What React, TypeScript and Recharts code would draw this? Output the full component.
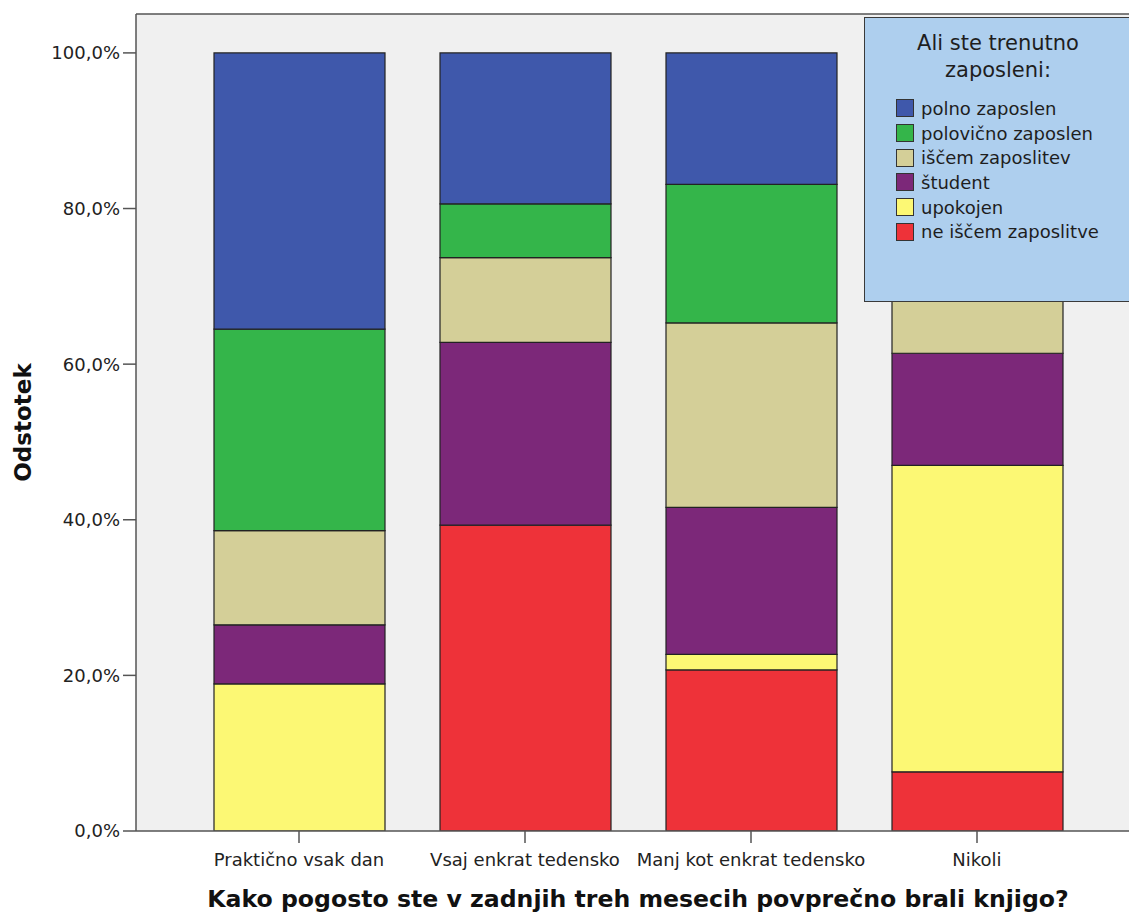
import {
  BarChart,
  Bar,
  XAxis,
  YAxis,
  CartesianGrid,
  ReferenceLine,
  Legend,
} from "recharts";

const categories = [
  "Praktično vsak dan",
  "Vsaj enkrat tedensko",
  "Manj kot enkrat tedensko",
  "Nikoli",
];

// stacked bottom -> top
const neIscemZaposlitve = [0, 39.3, 20.7, 7.6];
const upokojen = [18.9, 0, 2.0, 39.4];
const student = [7.6, 23.5, 18.9, 14.4];
const iscemZaposlitev = [12.1, 10.9, 23.7, 12.0];
const polovicnoZaposlen = [25.9, 6.9, 17.8, 7.0];
const polnoZaposlen = [35.5, 19.4, 16.9, 19.6];

const yTicks = [0, 20, 40, 60, 80, 100];

const series = [
  { key: "ne", name: "ne iščem zaposlitve", color: "#ee3239", values: neIscemZaposlitve },
  { key: "upo", name: "upokojen", color: "#fcf874", values: upokojen },
  { key: "stu", name: "študent", color: "#7c2879", values: student },
  { key: "isc", name: "iščem zaposlitev", color: "#d4cf98", values: iscemZaposlitev },
  { key: "pol", name: "polovično zaposlen", color: "#34b54a", values: polovicnoZaposlen },
  { key: "pz", name: "polno zaposlen", color: "#3f58ab", values: polnoZaposlen },
];

const data = categories.map((c, i) => {
  const row: Record<string, string | number> = { cat: c };
  for (const s of series) row[s.key] = s.values[i];
  return row;
});

const FONT = "'DejaVu Sans', Verdana, sans-serif";

function LegendBox() {
  const items = [...series].reverse();
  return (
    <div
      style={{
        boxSizing: "border-box",
        width: "100%",
        height: "100%",
        background: "#aecfee",
        border: "1.5px solid #3a3a3a",
        fontFamily: FONT,
        color: "#1e1e1e",
        paddingTop: 12,
      }}
    >
      <div style={{ textAlign: "center", fontSize: 21, lineHeight: "27px", paddingRight: 22 }}>
        Ali ste trenutno
        <br />
        zaposleni:
      </div>
      <div style={{ marginTop: 12, paddingLeft: 31 }}>
        {items.map((s) => (
          <div
            key={s.key}
            style={{ display: "flex", alignItems: "center", height: 24.7, fontSize: 18 }}
          >
            <span
              style={{
                display: "inline-block",
                boxSizing: "border-box",
                width: 18,
                height: 18,
                background: s.color,
                border: "1.5px solid #333",
                marginRight: 7,
              }}
            />
            {s.name}
          </div>
        ))}
      </div>
    </div>
  );
}

export default function App() {
  return (
    <div
      style={{
        position: "absolute",
        left: 0,
        top: 0,
        width: 1129,
        height: 915,
        overflow: "hidden",
        background: "#fff",
      }}
    >
      <BarChart
        width={1150}
        height={915}
        data={data}
        margin={{ top: 14, right: 10, bottom: 0, left: 0 }}
      >
        <CartesianGrid horizontal={false} vertical={false} fill="#f0f0f0" />
        <XAxis
          dataKey="cat"
          interval={0}
          height={84}
          padding={{ left: 50, right: 50 }}
          axisLine={{ stroke: "#555", strokeWidth: 1.5 }}
          tickLine={{ stroke: "#555", strokeWidth: 1.5 }}
          tickSize={12}
          tickMargin={10}
          tick={{ fontSize: 18, fill: "#222", fontFamily: FONT }}
          label={{
            value: "Kako pogosto ste v zadnjih treh mesecih povprečno brali knjigo?",
            position: "insideBottom",
            offset: 8,
            style: { fontSize: 23.6, fontWeight: "bold", fill: "#111", fontFamily: FONT },
          }}
        />
        <YAxis
          width={136}
          domain={[0, 105]}
          ticks={yTicks}
          allowDataOverflow
          axisLine={{ stroke: "#555", strokeWidth: 1.5 }}
          tickLine={{ stroke: "#555", strokeWidth: 1.5 }}
          tickSize={13}
          tickMargin={3}
          tickFormatter={(v: number) => `${v.toFixed(1).replace(".", ",")}%`}
          tick={{ fontSize: 18, fill: "#222", fontFamily: FONT }}
          label={(props: any) => {
            const vb = props.viewBox;
            const cx = vb.x + 23;
            const cy = vb.y + vb.height / 2;
            return (
              <text
                x={cx}
                y={cy}
                transform={`rotate(-90, ${cx}, ${cy})`}
                textAnchor="middle"
                dominantBaseline="central"
                style={{ fontSize: 23, fontWeight: "bold", fill: "#111", fontFamily: FONT }}
              >
                Odstotek
              </text>
            );
          }}
        />
        <ReferenceLine y={105} stroke="#555" strokeWidth={1.5} />
        {series.map((s) => (
          <Bar
            key={s.key}
            dataKey={s.key}
            name={s.name}
            stackId="a"
            fill={s.color}
            stroke="#222"
            strokeWidth={1.2}
            barSize={171}
            isAnimationActive={false}
          />
        ))}
        <Legend
          layout="vertical"
          align="center"
          verticalAlign="middle"
          content={() => <LegendBox />}
          wrapperStyle={{ left: 864, top: 17, width: 290, height: 285 }}
        />
      </BarChart>
    </div>
  );
}
